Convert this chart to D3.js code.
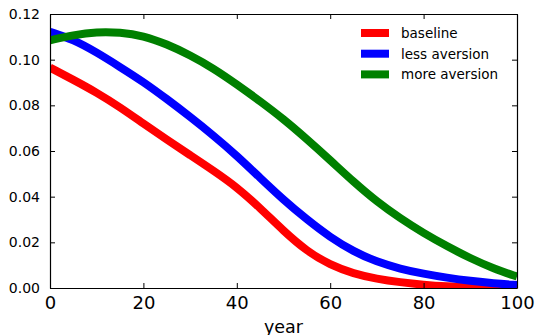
<!DOCTYPE html>
<meta charset="utf-8">
<script src="https://d3js.org/d3.v7.min.js"></script>
<style>
  body { margin: 0; background: #fff; }
  text { font-family: "DejaVu Sans", sans-serif; fill: #000; }
</style>
<div id="chart"></div>
<script>
    const years = [0, 5, 10, 15, 20, 25, 30, 35, 40, 45, 50, 55, 60, 65, 70, 75, 80, 85, 90, 95, 100]
    const baseline = [0.0965, 0.0912, 0.0856, 0.0792, 0.0720, 0.0650, 0.0582, 0.0514, 0.0442, 0.0350, 0.0250,
        0.0161, 0.0101, 0.0063, 0.0040, 0.0025, 0.0014, 0.0007, 0.0003, 0.0001, 0.0000]
    const lessAversion = [0.1122, 0.1088, 0.1032, 0.0968, 0.0903, 0.0828, 0.0750, 0.0668, 0.0580, 0.0482, 0.0386,
        0.0300, 0.0222, 0.0160, 0.0114, 0.0084, 0.0062, 0.0045, 0.0031, 0.0020, 0.0013]
    const moreAversion = [0.1085, 0.1108, 0.1122, 0.1120, 0.1105, 0.1068, 0.1020, 0.0962, 0.0892, 0.0818, 0.0740,
        0.0652, 0.0560, 0.0465, 0.0378, 0.0305, 0.0240, 0.0183, 0.0130, 0.0085, 0.0050]
    const seriesNames = ["baseline", "less aversion", "more aversion"]
    const seriesColors = ["#ff0000", "#0000ff", "#008000"]
    const xTicks = [0, 20, 40, 60, 80, 100]
    const yTicks = [0, 0.02, 0.04, 0.06, 0.08, 0.10, 0.12]

    var width = 545, height = 335
    var margin = { top: 14, right: 28, bottom: 47, left: 50 }

    var svg = d3.select("#chart").append("svg")
        .attr("width", width)
        .attr("height", height)

    var x = d3.scaleLinear().domain([0, 100]).range([margin.left, width - margin.right])
    var y = d3.scaleLinear().domain([0, 0.12]).range([height - margin.bottom, margin.top])

    svg.append("clipPath").attr("id", "plot-clip")
        .append("rect")
        .attr("x", x(0)).attr("y", y(0.12))
        .attr("width", x(100) - x(0)).attr("height", y(0) - y(0.12))

    var series = [baseline, lessAversion, moreAversion]

    var line = d3.line()
        .x(function (d, i) { return x(years[i]) })
        .y(function (d) { return y(d) })
        .curve(d3.curveBasis)

    svg.append("g").attr("clip-path", "url(#plot-clip)")
        .selectAll("path")
        .data(series)
        .enter().append("path")
        .attr("d", line)
        .attr("fill", "none")
        .attr("stroke", function (d, i) { return seriesColors[i] })
        .attr("stroke-width", 8)
        .attr("stroke-linejoin", "round")

    // axes, matplotlib classic look: ticks pointing inward on all four sides
    var tickLen = 5
    var xAxisBottom = svg.append("g").attr("transform", "translate(0," + y(0) + ")")
        .call(d3.axisBottom(x).tickValues(xTicks).tickSizeInner(-tickLen).tickSizeOuter(0).tickPadding(8))
    xAxisBottom.selectAll("text").style("font-size", "18px")

    var xAxisTop = svg.append("g").attr("transform", "translate(0," + y(0.12) + ")")
        .call(d3.axisTop(x).tickValues(xTicks).tickSizeInner(-tickLen).tickSizeOuter(0))
    xAxisTop.selectAll("text").remove()

    var yAxisLeft = svg.append("g").attr("transform", "translate(" + x(0) + ",0)")
        .call(d3.axisLeft(y).tickValues(yTicks).tickSizeInner(-tickLen).tickSizeOuter(0).tickPadding(10)
            .tickFormat(d3.format(".2f")))
    yAxisLeft.selectAll("text").style("font-size", "14px")

    var yAxisRight = svg.append("g").attr("transform", "translate(" + x(100) + ",0)")
        .call(d3.axisRight(y).tickValues(yTicks).tickSizeInner(-tickLen).tickSizeOuter(0))
    yAxisRight.selectAll("text").remove()

    svg.selectAll(".domain").attr("stroke", "#000").attr("stroke-width", 1.2)
    svg.selectAll(".tick line").attr("stroke", "#000")
    svg.selectAll(".tick text").attr("fill", "#000").style("font-family", "DejaVu Sans")

    svg.append("text")
        .attr("x", (x(0) + x(100)) / 2)
        .attr("y", 333)
        .attr("text-anchor", "middle")
        .style("font-size", "17.5px")
        .text("year")

    // legend
    var legend = svg.append("g").attr("transform", "translate(361,33)")
    seriesNames.forEach(function (name, i) {
        var g = legend.append("g").attr("transform", "translate(0," + (i * 20.7) + ")")
        g.append("line")
            .attr("x1", 0).attr("x2", 28)
            .attr("stroke", seriesColors[i])
            .attr("stroke-width", 8)
        g.append("text")
            .attr("x", 40)
            .attr("dy", "0.36em")
            .style("font-size", "13.5px")
            .text(name)
    })
</script>
